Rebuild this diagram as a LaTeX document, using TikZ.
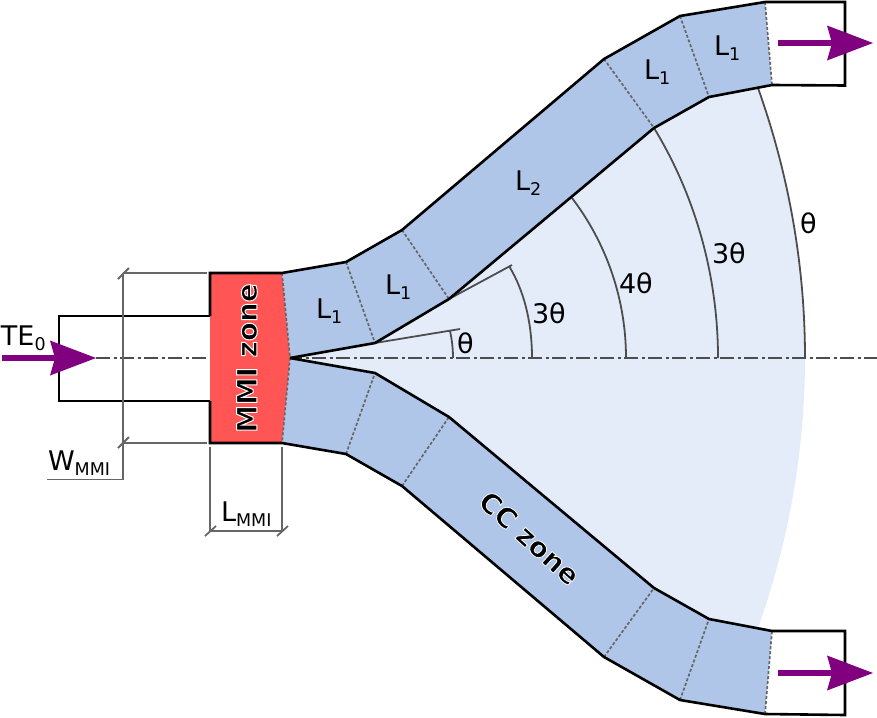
\documentclass[tikz,border=0pt]{standalone}
\usepackage{fontspec}
\setmainfont{DejaVu Sans}
\usetikzlibrary{arrows.meta}
\definecolor{wgblue}{HTML}{AFC6E9}
\definecolor{sector}{HTML}{E5ECF9}
\definecolor{mmired}{HTML}{FF5555}
\definecolor{dimgray}{HTML}{666666}
\definecolor{arcgray}{HTML}{4D4D4D}
\definecolor{arrowpurple}{HTML}{800080}
\newcommand{\bigfont}{\fontsize{27}{27}\selectfont}
\newcommand{\zonefont}{\fontsize{27.8}{28}\selectfont\bfseries}
\newcommand{\subtxt}[1]{\raisebox{-5pt}{\fontsize{17.5}{17.5}\selectfont #1}}
\newcommand{\halo}[2]{\special{pdf:code q 2 Tr 1 1 1 RG #1 w}#2\special{pdf:code Q}}
\tikzset{
  x=1pt,y=-1pt,
  outline/.style={draw=black,line width=2.6pt,line join=miter},
  wgfill/.style={fill=wgblue,draw=none},
  cut/.style={draw=dimgray,line width=1.7pt,dash pattern=on 3pt off 2pt},
  dimline/.style={draw=dimgray,line width=1.8pt},
  arcline/.style={draw=arcgray,line width=1.8pt},
  axisline/.style={draw=arcgray,line width=1.8pt,dash pattern=on 14pt off 3.5pt on 3pt off 3.5pt},
  flow/.style={draw=arrowpurple,line width=6.8pt,-{Stealth[length=46pt,width=35pt,inset=5pt,line width=0pt]}},
  lbl/.style={inner sep=0pt,outer sep=0pt,anchor=base west,font=\bigfont,text=black},
  zonelbl/.style={inner sep=0pt,outer sep=0pt,anchor=center,font=\zonefont,text=black},
}
\begin{document}
\begin{tikzpicture}
\useasboundingbox (0,0) rectangle (877,717);
% key points of the upper branch
\coordinate (O) at (290,358);
\coordinate (ua) at (282,273); \coordinate (ub) at (346,262); \coordinate (uc) at (402,230);
\coordinate (ud) at (604,59);  \coordinate (ue) at (680,16);  \coordinate (uf) at (765,2);
\coordinate (ug) at (772,85);  \coordinate (uh) at (709,97);  \coordinate (ui) at (654,128);
\coordinate (uj) at (449,299); \coordinate (uk) at (375,343);
% key points of the lower branch
\coordinate (la) at (282,443); \coordinate (lb) at (346,454); \coordinate (lc) at (402,486);
\coordinate (ld) at (604,657); \coordinate (le) at (680,700); \coordinate (lf) at (765,714);
\coordinate (lg) at (772,631); \coordinate (lh) at (709,619); \coordinate (li) at (654,588);
\coordinate (lj) at (449,417); \coordinate (lk) at (375,373);
% light sector
\fill[sector] (O) -- (uk) -- (uj) -- (ui) -- (uh) -- (758,88)
  .. controls (789,175) and (805,266) .. (805,358)
  .. controls (805,450) and (789,541) .. (758,628)
  -- (lh) -- (li) -- (lj) -- (lk) -- cycle;
% axis
\coordinate (axisS) at (96,358); \coordinate (axisE) at (877,358);
\draw[axisline] (axisS) -- (axisE);
% waveguide bodies
\path[wgfill] (ua) -- (ub) -- (uc) -- (ud) -- (ue) -- (uf) -- (ug) -- (uh) -- (ui) -- (uj) -- (uk) -- (O) -- cycle;
\path[wgfill] (la) -- (lb) -- (lc) -- (ld) -- (le) -- (lf) -- (lg) -- (lh) -- (li) -- (lj) -- (lk) -- (O) -- cycle;
% MMI
\coordinate (ma) at (210,273); \coordinate (mb) at (210,443);
\coordinate (mc) at (210,316); \coordinate (md) at (210,401);
\fill[mmired] (ma) -- (ua) -- (O) -- (la) -- (mb) -- cycle;
% section cuts
\draw[cut] (ua) -- (O) -- (la);
\draw[cut] (ub) -- (uk); \draw[cut] (uc) -- (uj); \draw[cut] (ud) -- (ui); \draw[cut] (ue) -- (uh); \draw[cut] (uf) -- (ug);
\draw[cut] (lb) -- (lk); \draw[cut] (lc) -- (lj); \draw[cut] (ld) -- (li); \draw[cut] (le) -- (lh); \draw[cut] (lf) -- (lg);
% angle lines and arcs
\coordinate (t1) at (460,329); \coordinate (t2) at (512,265);
\draw[arcline] (uk) -- (t1);
\draw[arcline] (uj) -- (t2);
\draw[arcline] (453,358) .. controls (453,349) and (452,340) .. (450,331);
\draw[arcline] (532,358) .. controls (532,326) and (525.5,293) .. (509,266);
\draw[arcline] (626,358) .. controls (626,300) and (607,244) .. (572,198);
\draw[arcline] (718,358) .. controls (718,277) and (696,197) .. (654,128);
\draw[arcline] (805,358) .. controls (805,266) and (789,175) .. (758,88);
% black outlines
\draw[outline] (O) -- (uk) -- (uj) -- (ui) -- (uh) -- (ug);
\draw[outline] (mc) -- (ma) -- (ua) -- (ub) -- (uc) -- (ud) -- (ue) -- (uf);
\draw[outline] (O) -- (lk) -- (lj) -- (li) -- (lh) -- (lg);
\draw[outline] (md) -- (mb) -- (la) -- (lb) -- (lc) -- (ld) -- (le) -- (lf);
\coordinate (ia) at (59,316); \coordinate (ib) at (59,401);
\draw[outline] (mc) -- (ia) -- (ib) -- (md);
\coordinate (oa) at (845,2); \coordinate (ob) at (845,85.5);
\draw[outline] (uf) -- (oa) -- (ob) -- (ug);
\coordinate (pa) at (845,631); \coordinate (pb) at (845,715);
\draw[outline] (lg) -- (pa) -- (pb) -- (lf);
% dimensions
\coordinate (wt) at (123,273); \coordinate (wb) at (123,443); \coordinate (wc) at (123,479.5); \coordinate (wl) at (47,479.5);
\coordinate (wtr) at (207,273); \coordinate (wbr) at (207,443);
\draw[dimline] (wt) -- (wc) -- (wl);
\draw[dimline] (wt) -- (wtr);
\draw[dimline] (wb) -- (wbr);
\draw[dimline] (118,279) -- (129,268);
\draw[dimline] (118,448) -- (129,437);
\coordinate (lt1) at (210,447); \coordinate (lb1) at (210,531); \coordinate (lt2) at (282,447); \coordinate (lb2) at (282,531);
\draw[dimline] (lt1) -- (lb1) -- (lb2) -- (lt2);
\draw[dimline] (205,536) -- (216,526);
\draw[dimline] (277,536) -- (288,526);
% arrows
\coordinate (inS) at (2,358); \coordinate (inE) at (96,358);
\draw[flow] (inS) -- (inE);
\coordinate (o1S) at (778,43); \coordinate (o1E) at (873,43);
\draw[flow] (o1S) -- (o1E);
\coordinate (o2S) at (778,673); \coordinate (o2E) at (873,673);
\draw[flow] (o2S) -- (o2E);
% labels
\node[lbl] (te) at (1,345) {TE\subtxt{0}};
\node[lbl] (wm) at (48,470) {W\subtxt{MMI}};
\node[lbl] (lm) at (221,521) {L\subtxt{MMI}};
\node[lbl] (l1a) at (316,318) {L\subtxt{1}};
\node[lbl] (l1b) at (385,294) {L\subtxt{1}};
\node[lbl] (l2) at (515,190) {L\subtxt{2}};
\node[lbl] (l1c) at (644,79) {L\subtxt{1}};
\node[lbl] (l1d) at (714,56) {L\subtxt{1}};
\node[lbl] (th1) at (457,353) {θ};
\node[lbl] (th2) at (532,323) {3θ};
\node[lbl] (th3) at (619,293) {4θ};
\node[lbl] (th4) at (712,263) {3θ};
\node[lbl] (th5) at (800,233) {θ};
\node[zonelbl,rotate=90] (mmi) at (247,358) {\halo{1}{MMI zone}};
\node[zonelbl,rotate=-42] (cc) at (529.5,538) {\halo{0.8}{CC zone}};
\end{tikzpicture}
\end{document}
